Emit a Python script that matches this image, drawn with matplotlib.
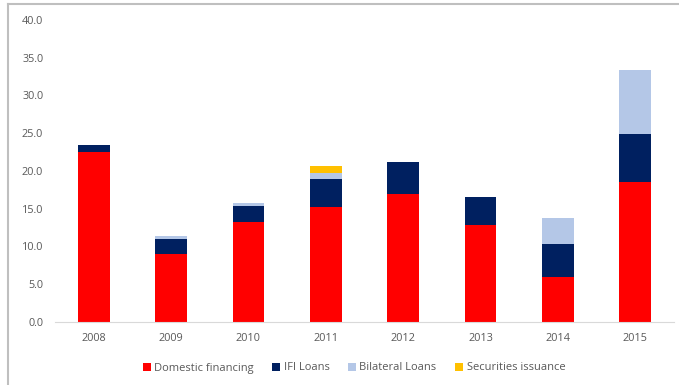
import matplotlib.pyplot as plt
import numpy as np
from matplotlib.lines import Line2D

years = ['2008', '2009', '2010', '2011', '2012', '2013', '2014', '2015']
domestic = [22.5, 9.0, 13.2, 15.2, 17.0, 12.8, 5.9, 18.5]
ifi = [0.9, 2.0, 2.1, 3.8, 4.2, 3.8, 4.4, 6.4]
bilateral = [0.0, 0.4, 0.4, 0.8, 0.0, 0.0, 3.5, 8.5]
securities = [0.0, 0.0, 0.0, 0.8, 0.0, 0.0, 0.0, 0.0]

series = [
    ('Domestic financing', domestic, '#FF0000'),
    ('IFI Loans', ifi, '#002060'),
    ('Bilateral Loans', bilateral, '#B4C7E7'),
    ('Securities issuance', securities, '#FFC000'),
]

plt.rcParams['font.family'] = ['Open Sans', 'DejaVu Sans']
txt = '#595959'

fig = plt.figure(figsize=(6.79, 3.85), dpi=100)
ax = fig.add_axes([55 / 679, 1 - 322 / 385, 619 / 679, 302 / 385])

x = np.arange(len(years))
bottom = np.zeros(len(years))
for name, vals, color in series:
    vals = np.asarray(vals)
    ax.bar(x, vals, width=0.41, bottom=bottom, color=color, label=name,
           edgecolor='none', zorder=2)
    bottom += vals

ax.set_xlim(-0.5, len(years) - 0.5)
ax.set_ylim(0, 40)
ax.set_yticks(np.arange(0, 40.1, 5))
ax.set_yticklabels([f'{v:.1f}' for v in np.arange(0, 40.1, 5)])
ax.set_xticks(x)
ax.set_xticklabels(years)
ax.tick_params(axis='both', length=0, labelsize=7.8, colors=txt)
ax.tick_params(axis='y', pad=8.5)
ax.tick_params(axis='x', pad=8)
for s in ['top', 'right', 'left']:
    ax.spines[s].set_visible(False)
ax.spines['bottom'].set_color('#D9D9D9')

handles, labels = ax.get_legend_handles_labels()
fig.legend(handles, labels, loc='center', bbox_to_anchor=(354 / 679, 1 - 368 / 385),
           ncol=4, frameon=False, fontsize=8, labelcolor=txt,
           handlelength=0.7, handleheight=0.7, handletextpad=0.3, columnspacing=1.7)

# outer frame along the top and left edges
fig.add_artist(Line2D([8 / 679, 8 / 679], [0, 1 - 4 / 385], transform=fig.transFigure,
                      color='#BFBFBF', lw=1.5))
fig.add_artist(Line2D([8 / 679, 1], [1 - 4 / 385, 1 - 4 / 385], transform=fig.transFigure,
                      color='#BFBFBF', lw=1.5))

fig.savefig('out.png', dpi=100)
